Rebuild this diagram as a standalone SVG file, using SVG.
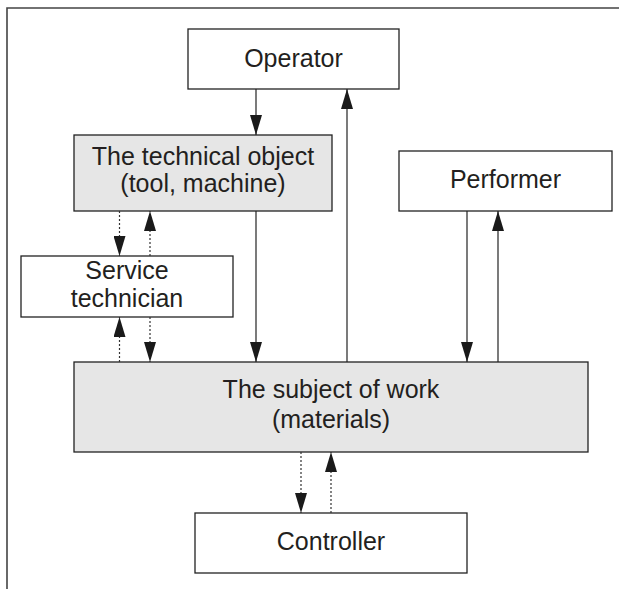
<svg xmlns="http://www.w3.org/2000/svg" width="619" height="589" viewBox="0 0 619 589">
<defs>
<marker id="ah" viewBox="0 0 20 12" refX="20" refY="6" markerWidth="20" markerHeight="12" markerUnits="userSpaceOnUse" orient="auto">
<path d="M0,0 L20,6 L0,12 Z" fill="#1a1a1a"/>
</marker>
</defs>
<style>
.box{fill:#fff;stroke:#222;stroke-width:1.3}
.gray{fill:#e6e6e6;stroke:#222;stroke-width:1.3}
text{font-family:"Liberation Sans",Arial,sans-serif;font-size:25px;fill:#231f20;text-anchor:middle}
.solid{stroke:#222;stroke-width:1.2;fill:none;marker-end:url(#ah)}
.dot{stroke:#333;stroke-width:1.2;stroke-dasharray:2,2;fill:none;marker-end:url(#ah)}
</style>
<rect width="619" height="589" fill="#fff"/>
<path d="M7,589 L7,8 L619,8" fill="none" stroke="#444" stroke-width="1.6"/>
<g id="operator"><rect class="box" x="188" y="29" width="211" height="60"/><text x="293.5" y="67">Operator</text></g>
<g id="technical-object"><rect class="gray" x="74" y="135" width="258" height="76"/><text x="203" y="165">The technical object</text><text x="203" y="192">(tool, machine)</text></g>
<g id="performer"><rect class="box" x="399" y="151" width="213" height="60"/><text x="505.5" y="188">Performer</text></g>
<g id="service-technician"><rect class="box" x="21" y="256" width="212" height="61"/><text x="127" y="279">Service</text><text x="127" y="307">technician</text></g>
<g id="subject-of-work"><rect class="gray" x="74" y="362" width="514" height="90"/><text x="331" y="398">The subject of work</text><text x="331" y="428">(materials)</text></g>
<g id="controller"><rect class="box" x="195" y="513" width="272" height="60"/><text x="331" y="550">Controller</text></g>
<g id="connectors">
<line class="solid" x1="256" y1="89" x2="256" y2="135"/>
<line class="solid" x1="347" y1="362" x2="347" y2="89"/>
<line class="solid" x1="256" y1="211" x2="256" y2="362"/>
<line class="solid" x1="467" y1="211" x2="467" y2="362"/>
<line class="solid" x1="498" y1="362" x2="498" y2="211"/>
<line class="dot" x1="119.5" y1="211" x2="119.5" y2="256"/>
<line class="dot" x1="150" y1="256" x2="150" y2="211"/>
<line class="dot" x1="119.5" y1="362" x2="119.5" y2="317"/>
<line class="dot" x1="150" y1="317" x2="150" y2="362"/>
<line class="dot" x1="301" y1="452" x2="301" y2="513"/>
<line class="dot" x1="331" y1="513" x2="331" y2="452"/>
</g>
</svg>
